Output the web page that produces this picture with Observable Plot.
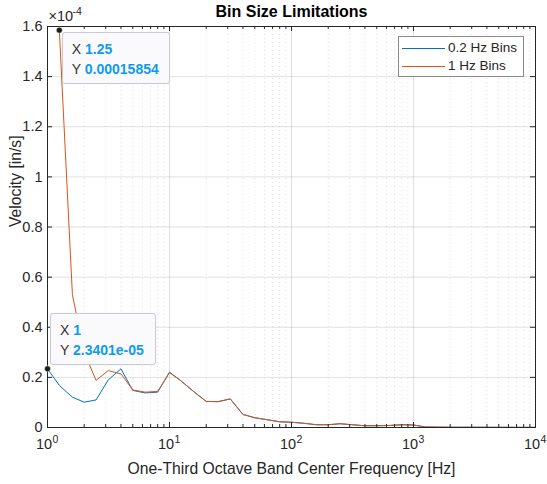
<!DOCTYPE html>
<html>
<head>
<meta charset="utf-8">
<script src="https://cdn.jsdelivr.net/npm/d3@7"></script>
<script src="https://cdn.jsdelivr.net/npm/@observablehq/plot@0.6"></script>
<style>
  body { margin: 0; background: #fff; font-family: "Liberation Sans", Arial, sans-serif; }
  #wrap { position: relative; width: 547px; height: 484px; }
  #wrap svg text { font-family: "Liberation Sans", Arial, sans-serif; }
  .legend { position: absolute; background: #fff; border: 1px solid #8a8a8a; font-size: 13.5px; color: #262626; box-sizing: border-box; }
  .legend .row { position: absolute; left: 0; height: 16px; line-height: 16px; white-space: nowrap; }
  .legend .sw { position: absolute; top: 8px; height: 0; border-top: 1px solid; }
  .legend .lb { position: absolute; }
  .tip { position: absolute; background: rgba(250,250,252,0.96); border: 1px solid #c9c9cf; border-radius: 3px;
         box-sizing: border-box; font-size: 14px; color: #333; box-shadow: 0 0 2px rgba(0,0,0,0.06); }
  .tip .ln { position: absolute; left: 9px; white-space: nowrap; }
  .tip .v { color: #0f9af0; font-weight: bold; }
</style>
</head>
<body>
<div id="wrap"></div>
<script>
// One-third octave band center frequencies [Hz]
const frequencies = [1, 1.25, 1.6, 2, 2.5, 3.15, 4, 5, 6.3, 8, 10, 12.5, 16, 20, 25, 31.5, 40, 50, 63, 80,
  100, 125, 160, 200, 250, 315, 400, 500, 630, 800, 1000, 1250, 1600, 2000, 2500, 3150, 4000, 5000, 6300, 8000, 10000];

// Band velocity [in/s] computed with 0.2 Hz bins
const bins02 = [2.3401e-5, 1.68e-5, 1.21e-5, 1.01e-5, 1.10e-5, 1.90e-5, 2.34e-5, 1.48e-5, 1.38e-5, 1.41e-5,
  2.21e-5, 1.85e-5, 1.41e-5, 1.04e-5, 1.03e-5, 1.14e-5, 0.52e-5, 0.39e-5, 0.31e-5, 0.23e-5,
  0.21e-5, 0.17e-5, 0.11e-5, 0.11e-5, 0.15e-5, 0.11e-5, 0.07e-5, 0.07e-5, 0.08e-5, 0.11e-5,
  0.10e-5, 0.02e-5, 0.015e-5, 0.01e-5, 0.01e-5, 0.01e-5, 0.008e-5, 0.008e-5, 0.007e-5, 0.006e-5, 0.006e-5];

// Band velocity [in/s] computed with 1 Hz bins (no value in the 1 Hz band)
const bins1 = [null, 1.5854e-4, 0.53e-4, 0.30e-4, 0.188e-4, 0.227e-4, 0.214e-4, 0.150e-4, 0.141e-4, 0.144e-4,
  0.219e-4, 0.185e-4, 0.141e-4, 0.104e-4, 0.103e-4, 0.114e-4, 0.052e-4, 0.039e-4, 0.031e-4, 0.023e-4,
  0.021e-4, 0.017e-4, 0.011e-4, 0.011e-4, 0.015e-4, 0.011e-4, 0.007e-4, 0.007e-4, 0.008e-4, 0.011e-4,
  0.010e-4, 0.002e-4, 0.0015e-4, 0.001e-4, 0.001e-4, 0.001e-4, 0.0008e-4, 0.0008e-4, 0.0007e-4, 0.0006e-4, 0.0006e-4];

const seriesNames = ["0.2 Hz Bins", "1 Hz Bins"];
const seriesColors = ["#0072BD", "#D95319"];

// Axis ticks
const decades = [1, 10, 100, 1000, 10000];
const minorTicks = [];
for (const d of [1, 10, 100, 1000]) for (let k = 2; k <= 9; k++) minorTicks.push(d * k);
const yTicks = [0, 0.2e-4, 0.4e-4, 0.6e-4, 0.8e-4, 1.0e-4, 1.2e-4, 1.4e-4, 1.6e-4];
const yExponent = -4;

// Data tips: [series index, band index]
const dataTips = [[0, 0], [1, 1]];

const W = 547, H = 484;
const M = {top: 26, right: 12, bottom: 57, left: 47};
const frameW = W - M.left - M.right, frameH = H - M.top - M.bottom;
const ink = "#262626";
const tickFont = 14.5, labelFont = 15.7;

const rows = frequencies.map((f, i) => ({f, a: bins02[i], b: bins1[i]}));
const tipPoints = dataTips.map(([s, i]) => ({f: frequencies[i], v: s === 0 ? bins02[i] : bins1[i]}));

const chart = Plot.plot({
  width: W, height: H,
  marginTop: M.top, marginRight: M.right, marginBottom: M.bottom, marginLeft: M.left,
  style: {fontFamily: "'Liberation Sans', Arial, sans-serif", fontSize: "14px", color: ink, background: "#fff"},
  x: {type: "log", domain: [1, 10000]},
  y: {domain: [0, 1.6e-4]},
  marks: [
    // grid
    Plot.ruleX(minorTicks, {x: d => d, stroke: "#000", strokeOpacity: 0.13, strokeDasharray: "1,3"}),
    Plot.ruleX(decades, {x: d => d, stroke: "#000", strokeOpacity: 0.12}),
    Plot.ruleY(yTicks, {y: d => d, stroke: "#000", strokeOpacity: 0.12}),
    // series
    Plot.line(rows, {x: "f", y: "a", stroke: seriesColors[0], strokeWidth: 1, filter: d => d.a != null}),
    Plot.line(rows, {x: "f", y: "b", stroke: seriesColors[1], strokeWidth: 1, filter: d => d.b != null}),
    // box and inward ticks
    Plot.frame({stroke: ink, strokeWidth: 1}),
    Plot.tickX(decades, {x: d => d, stroke: ink, insetTop: frameH - 5}),
    Plot.tickX(decades, {x: d => d, stroke: ink, insetBottom: frameH - 5}),
    Plot.tickX(minorTicks, {x: d => d, stroke: ink, insetTop: frameH - 3}),
    Plot.tickX(minorTicks, {x: d => d, stroke: ink, insetBottom: frameH - 3}),
    Plot.tickY(yTicks, {y: d => d, stroke: ink, insetRight: frameW - 5}),
    Plot.tickY(yTicks, {y: d => d, stroke: ink, insetLeft: frameW - 5}),
    // y axis labels, scaled by the common exponent
    Plot.axisY({ticks: yTicks, tickSize: 0, tickPadding: 5, fontSize: tickFont,
      tickFormat: d => String(+(d / Math.pow(10, yExponent)).toFixed(1)), label: null}),
    Plot.axisX({ticks: [], label: null}),
    // x tick labels as 10^n
    Plot.text(decades, {x: d => d, text: () => "10", frameAnchor: "bottom", lineAnchor: "middle",
      dy: 17, dx: -3.5, fontSize: tickFont, fill: ink}),
    Plot.text(decades, {x: d => d, text: d => String(Math.round(Math.log10(d))), frameAnchor: "bottom",
      lineAnchor: "middle", dy: 12, dx: 5, textAnchor: "start", fontSize: 10.5, fill: ink}),
    // exponent above the y axis
    Plot.text(["\u00d710"], {frameAnchor: "top-left", lineAnchor: "middle", textAnchor: "start",
      dy: -10, dx: 1, fontSize: tickFont, fill: ink}),
    Plot.text([String(yExponent)], {frameAnchor: "top-left", lineAnchor: "middle", textAnchor: "start",
      dy: -15, dx: 25, fontSize: 10.5, fill: ink}),
    // titles
    Plot.text(["Bin Size Limitations"], {frameAnchor: "top", lineAnchor: "middle", dy: -15,
      fontSize: 16, fontWeight: "bold", fill: "#000"}),
    Plot.text(["One-Third Octave Band Center Frequency [Hz]"], {frameAnchor: "bottom", lineAnchor: "middle",
      dy: 41, fontSize: labelFont, fill: ink}),
    Plot.text(["Velocity [in/s]"], {frameAnchor: "left", dx: -32, rotate: -90, fontSize: labelFont, fill: ink}),
    // data tip markers
    Plot.dot(tipPoints, {x: "f", y: "v", r: 3, fill: "#1a1a1a", stroke: "#fff", strokeWidth: 0.5})
  ]
});

const wrap = document.getElementById("wrap");
wrap.appendChild(chart);

// Legend
const legend = document.createElement("div");
legend.className = "legend";
Object.assign(legend.style, {left: "398px", top: "36px", width: "126px", height: "41px"});
seriesNames.forEach((name, i) => {
  const row = document.createElement("div");
  row.className = "row";
  row.style.top = (3 + i * 18) + "px";
  row.innerHTML = `<span class="sw" style="left:3px;width:43px;border-color:${seriesColors[i]}"></span>` +
                  `<span class="lb" style="left:49px">${name}</span>`;
  legend.appendChild(row);
});
wrap.appendChild(legend);

// Data tip boxes
const sx = chart.scale("x"), sy = chart.scale("y");
const fmt = v => v >= 1e-4 ? String(+v.toPrecision(5)) : v.toExponential(4).replace(/e-(\d)$/, "e-0$1");
tipPoints.forEach((p, k) => {
  const px = sx.apply(p.f), py = sy.apply(p.v);
  const box = document.createElement("div");
  box.className = "tip";
  const w = k === 0 ? 106 : 108, h = 52;
  const left = px + 3;
  const top = k === 0 ? py - h - 3 : py + 2;
  Object.assign(box.style, {left: left + "px", top: top + "px", width: w + "px", height: h + "px"});
  box.innerHTML = `<div class="ln" style="top:8px">X <span class="v">${p.f}</span></div>` +
                  `<div class="ln" style="top:28px">Y <span class="v">${fmt(p.v)}</span></div>`;
  wrap.appendChild(box);
});
</script>
</body>
</html>
